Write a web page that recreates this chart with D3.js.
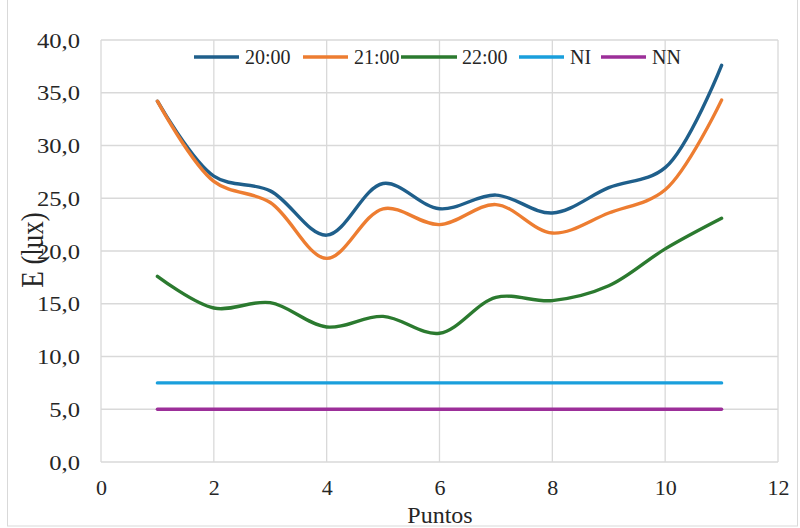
<!DOCTYPE html>
<html><head><meta charset="utf-8">
<script src="https://cdn.jsdelivr.net/npm/d3@7"></script>
<style>body{margin:0;background:#fff}svg{display:block}text{font-family:"Liberation Serif","Times New Roman",serif !important;fill:#262626}</style>
</head><body><svg id="c" width="800" height="528"></svg>
<script>
const puntos = [1,2,3,4,5,6,7,8,9,10,11];
const s2000 = [34.2,27.1,25.7,21.5,26.4,24.0,25.3,23.6,26.0,27.9,37.6];
const s2100 = [34.2,26.6,24.6,19.3,24.0,22.5,24.4,21.7,23.6,25.8,34.3];
const s2200 = [17.6,14.6,15.1,12.8,13.8,12.2,15.6,15.3,16.7,20.2,23.1];
const sNI = [7.5,7.5,7.5,7.5,7.5,7.5,7.5,7.5,7.5,7.5,7.5];
const sNN = [5,5,5,5,5,5,5,5,5,5,5];
const seriesNames = ["20:00","21:00","22:00","NI","NN"];
const seriesColors = ["#1f5f8b","#ed7d31","#2b7a2f","#1a9fdc","#9c2f99"];
const xTicks = [0,2,4,6,8,10,12];
const yTicks = [0,5,10,15,20,25,30,35,40];

const FONT = '"Liberation Serif","Times New Roman",serif';
const svg = d3.select("#c");
const L=101,R=778,T=40,B=462;
const x = d3.scaleLinear().domain([0,12]).range([L,R]);
const y = d3.scaleLinear().domain([0,40]).range([B,T]);

svg.append("rect").attr("x",7.5).attr("y",-2).attr("width",790).attr("height",528).attr("fill","none").attr("stroke","#d9d9d9");

// grid
svg.append("g").selectAll("line").data(yTicks).join("line")
 .attr("x1",L).attr("x2",R).attr("y1",d=>y(d)).attr("y2",d=>y(d)).attr("stroke","#d9d9d9").attr("stroke-width",1.3);
svg.append("g").selectAll("line").data(xTicks).join("line")
 .attr("y1",T).attr("y2",B).attr("x1",d=>x(d)).attr("x2",d=>x(d)).attr("stroke","#d9d9d9").attr("stroke-width",1.3);

// axes labels
const fmt = d=>d3.format(".1f")(d).replace(".",",");
const yAxis = d3.axisLeft(y).tickValues(yTicks).tickFormat(fmt).tickSize(0).tickPadding(21);
const gy = svg.append("g").attr("transform",`translate(${L},0)`).attr("font-family",FONT).call(yAxis);
gy.select(".domain").remove();
gy.selectAll("text").style("font-size","22px").style("font-family",FONT).attr("fill","#262626")
  .attr("x",0).attr("transform","translate(-21,0) scale(1.12,1)");
const xAxis = d3.axisBottom(x).tickValues(xTicks).tickFormat(d3.format("d")).tickSize(0).tickPadding(17);
const gx = svg.append("g").attr("transform",`translate(0,${B})`).attr("font-family",FONT).call(xAxis);
gx.select(".domain").remove();
gx.selectAll("text").style("font-size","22px").style("font-family",FONT).attr("fill","#262626");

svg.append("text").attr("x",440).attr("y",522.5).attr("text-anchor","middle").style("font-size","24px").style("font-family",FONT).text("Puntos");
svg.append("text").attr("transform","translate(43,250) scale(1.15,1) rotate(-90)").attr("text-anchor","middle").style("font-size","27px").style("font-family",FONT).text("E (lux)");

const all = [s2000,s2100,s2200,sNI,sNN];
const line = d3.line().x((d,i)=>x(puntos[i])).y(d=>y(d)).curve(d3.curveCatmullRom.alpha(0.5));
svg.append("g").selectAll("path").data(all).join("path")
 .attr("d",line).attr("fill","none").attr("stroke",(d,i)=>seriesColors[i]).attr("stroke-width",3.4).attr("stroke-linecap","round");

// legend
const legX = [194,303,401,519,601];
const lg = svg.append("g").selectAll("g").data(seriesNames).join("g").attr("transform",(d,i)=>`translate(${legX[i]},57)`);
lg.append("line").attr("x1",0).attr("x2",(d,i)=>i==2?56:45).attr("stroke",(d,i)=>seriesColors[i]).attr("stroke-width",3.6);
lg.append("text").attr("x",(d,i)=>i==2?61:51).attr("y",7).style("font-size","20px").style("font-family",FONT).text(d=>d);
</script></body></html>
